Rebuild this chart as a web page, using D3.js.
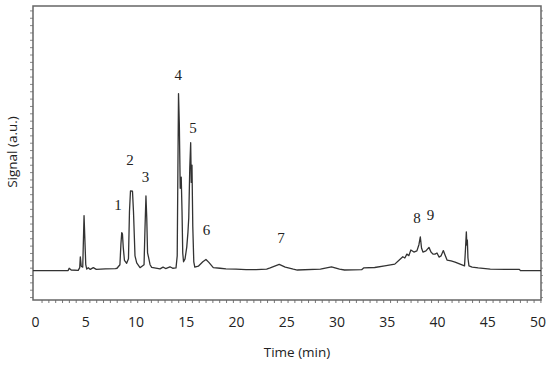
<!DOCTYPE html>
<html>
<head>
<meta charset="utf-8">
<script src="https://cdn.jsdelivr.net/npm/d3@7"></script>
<style>
  body { margin: 0; background: #fff; }
  svg { display: block; }
</style>
</head>
<body>
<div id="chart"></div>
<script>
// retention time (min) and detector signal (a.u.)
var retentionTimes = [
  -0.2, 3.3, 3.4, 3.6, 4.3, 4.45, 4.51, 4.6, 4.75, 4.88, 5.05, 5.15, 5.3, 5.5, 5.8, 6.1, 7.0, 8.0,
  8.16, 8.45, 8.55, 8.63, 8.7, 8.78, 8.9, 9.12, 9.3, 9.4, 9.5, 9.7, 9.8, 9.95, 10.12, 10.45,
  10.85, 10.95, 11.04, 11.12, 11.2, 11.3, 11.45, 11.61, 12.44, 12.74, 13.0, 13.43, 13.7, 14.03,
  14.15, 14.22, 14.28, 14.36, 14.45, 14.55, 14.63, 14.7, 14.78, 14.93, 15.1, 15.22, 15.3, 15.4,
  15.49, 15.55, 15.62, 15.7, 15.8, 15.9, 16.25, 16.7, 17.01, 17.3, 17.74, 18.41, 19, 20, 21, 22,
  23.05, 23.4, 24.3, 24.9, 25.7, 26.1, 28.4, 29.5, 30.3, 30.8, 32.5, 32.7, 33.8, 34.8, 35.8,
  36.3, 36.6, 36.8, 37.0, 37.2, 37.4, 37.7, 38.0, 38.2, 38.34, 38.46, 38.6, 38.9, 39.2, 39.4,
  39.6, 39.8, 40.0, 40.2, 40.4, 40.63, 40.8, 41.0, 41.4, 41.8, 42.3, 42.74, 42.84, 42.92, 42.97,
  43.02, 43.08, 43.18, 43.5, 44.1, 45.3, 46.8, 48.2, 48.3, 50.35
]
var signalValues = [
  0, 0, 0.8, 0.2, 0.1, 1.0, 4.7, 1.5, 1.2, 18.7, 2.0, 0.5, 1.0, 0.4, 1.0, 0.4, 0.6, 0.7,
  0.8, 2.0, 9.0, 12.9, 12.5, 8.0, 3.5, 2.5, 4.0, 20.0, 27.1, 27.0, 20.0, 5.0, 2.6, 1.0,
  2.0, 15.0, 25.4, 18.0, 6.0, 4.5, 2.0, 1.1, 0.6, 1.2, 0.7, 1.3, 0.8, 0.9,
  5.0, 35.0, 60.2, 50.0, 28.0, 31.8, 20.0, 6.0, 3.0, 4.0, 8.0, 13.1, 18.0, 35.0,
  43.5, 30.0, 35.9, 15.0, 3.0, 1.2, 1.5, 3.0, 3.8, 2.8, 1.0, 0.8, 0.6, 0.5, 0.3, 0.3,
  0.5, 0.9, 2.1, 1.2, 0.5, 0.2, 0.5, 1.3, 0.5, 0.2, 0.3, 0.9, 1.05, 1.6, 2.2,
  3.8, 4.7, 4.3, 5.6, 5.1, 7.0, 6.3, 6.7, 8.8, 11.5, 7.7, 6.3, 6.7, 7.9, 6.3,
  5.6, 5.6, 6.0, 4.6, 5.0, 6.8, 5.3, 3.6, 3.3, 2.9, 2.2, 1.6, 7.7, 13.2, 8.7,
  10.4, 4.3, 1.6, 1.2, 0.9, 0.5, 0.45, 0.4, 0, 0
]

// numbered peak annotations
var peakNames = ['1', '2', '3', '4', '5', '6', '7', '8', '9']
var peakLabelTimes = [8.26, 9.45, 11.0, 14.26, 15.72, 17.06, 24.48, 38.0, 39.35]
var peakLabelSignals = [22.3, 37.6, 31.8, 66.5, 48.5, 13.8, 11.1, 17.9, 18.9]

var xTickLabels = [0, 5, 10, 15, 20, 25, 30, 35, 40, 45, 50]

var svgWidth = 550
var svgHeight = 367

var svg = d3.select('#chart')
  .append('svg')
  .attr('width', svgWidth)
  .attr('height', svgHeight)

var frame = { left: 33, right: 541, top: 6, bottom: 300 }

var xScale = d3.scaleLinear()
  .domain([0, 50])
  .range([35, 537.5])

var yScale = d3.scaleLinear()
  .domain([-10, 90])
  .range([frame.bottom, frame.top])

// minor ticks around the frame
var xMinor = d3.range(0.65, 50.3, 0.68)
var yMinor = d3.range(-9, 90, 2.5)

svg.append('g')
  .attr('transform', `translate(0, ${frame.bottom})`)
  .call(d3.axisBottom(xScale).tickValues(xMinor).tickSize(3).tickFormat(''))
  .call(g => g.select('.domain').remove())
  .selectAll('line').attr('stroke', '#777')

svg.append('g')
  .attr('transform', `translate(${frame.left}, 0)`)
  .call(d3.axisLeft(yScale).tickValues(yMinor).tickSize(3).tickFormat(''))
  .call(g => g.select('.domain').remove())
  .selectAll('line').attr('stroke', '#888')

svg.append('g')
  .attr('transform', `translate(${frame.right}, 0)`)
  .call(d3.axisRight(yScale).tickValues(yMinor).tickSize(2).tickFormat(''))
  .call(g => g.select('.domain').remove())
  .selectAll('line').attr('stroke', '#999')

// tick labels
svg.append('g')
  .attr('transform', `translate(0, ${frame.bottom})`)
  .call(d3.axisBottom(xScale).tickValues(xTickLabels).tickSize(0).tickPadding(17))
  .call(g => g.select('.domain').remove())
  .selectAll('text')
  .style('font-family', '"Open Sans", sans-serif')
  .style('font-size', '14px')
  .attr('fill', '#222')

// plot frame
svg.append('rect')
  .attr('x', frame.left)
  .attr('y', frame.top)
  .attr('width', frame.right - frame.left)
  .attr('height', frame.bottom - frame.top)
  .attr('fill', 'none')
  .attr('stroke', '#666')
  .attr('stroke-width', 1.5)

// chromatogram trace
var points = retentionTimes.map((t, i) => [t, signalValues[i]])

var line = d3.line()
  .x(d => xScale(d[0]))
  .y(d => yScale(d[1]))

svg.append('path')
  .datum(points)
  .attr('d', line)
  .attr('fill', 'none')
  .attr('stroke', '#333')
  .attr('stroke-width', 1.3)
  .attr('stroke-linejoin', 'round')

// peak numbers
svg.selectAll('.peak-label')
  .data(peakNames)
  .enter()
  .append('text')
  .attr('class', 'peak-label')
  .attr('x', (d, i) => xScale(peakLabelTimes[i]))
  .attr('y', (d, i) => yScale(peakLabelSignals[i]))
  .attr('dy', '0.35em')
  .style('text-anchor', 'middle')
  .style('font-family', '"Liberation Serif", "Times New Roman", serif')
  .style('font-size', '15px')
  .style('fill', '#222')
  .text(d => d)

// axis titles
svg.append('text')
  .attr('x', 297)
  .attr('y', 357)
  .style('text-anchor', 'middle')
  .style('font-family', '"Open Sans", sans-serif')
  .style('font-size', '13.5px')
  .style('fill', '#222')
  .text('Time (min)')

svg.append('text')
  .attr('transform', 'rotate(-90)')
  .attr('x', -152)
  .attr('y', 17)
  .style('text-anchor', 'middle')
  .style('font-family', '"Open Sans", sans-serif')
  .style('font-size', '13.5px')
  .style('fill', '#222')
  .text('Signal (a.u.)')
</script>
</body>
</html>
